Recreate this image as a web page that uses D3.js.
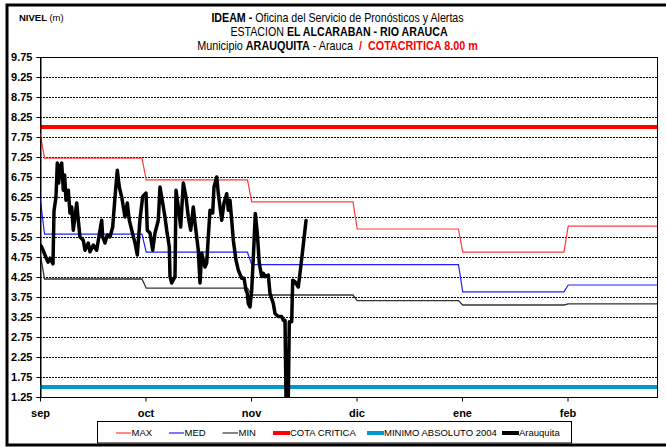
<!DOCTYPE html>
<html>
<head>
<meta charset="utf-8">
<script src="https://cdn.jsdelivr.net/npm/d3@7/dist/d3.min.js"></script>
<style>
  html, body { margin: 0; padding: 0; background: #fff; }
  svg { display: block; }
  .narrow { font-family: "Liberation Sans Narrow", "Arial Narrow", "Liberation Sans", Arial, sans-serif; }
  .reg { font-family: "Liberation Sans", Arial, sans-serif; }
</style>
</head>
<body>
<svg id="chart" width="666" height="447"></svg>
<script>
// ---------------- DATA ----------------
const monthLabels = ["sep", "oct", "nov", "dic", "ene", "feb"];
const monthTicks = [0, 30, 60, 90, 120, 150];
const yTickValues = [1.25, 1.75, 2.25, 2.75, 3.25, 3.75, 4.25, 4.75, 5.25, 5.75, 6.25, 6.75, 7.25, 7.75, 8.25, 8.75, 9.25, 9.75];

// monthly statistics (step values per month), with the value carried from the previous month at day 0
const maxStart = 7.85;
const maxVals = [7.22, 6.68, 6.13, 5.45, 4.87, 5.52];
const medStart = 6.25;
const medVals = [5.32, 4.87, 4.56, 4.56, 3.88, 4.05];
const minStart = 4.85;
const minVals = [4.20, 3.97, 3.80, 3.66, 3.55, 3.58];

const cotaCritica = 8.00;
const minimoAbsoluto2004 = 1.50;

// Arauquita observed levels (day index, level m)
const arDay = [0, 0.48, 1.42, 2.27, 2.84, 3.7, 3.98, 4.55, 4.92, 5.3, 5.69, 6.17, 6.63, 7.0, 7.39, 8.05, 8.53, 9.01, 9.47, 10.44,
  10.89, 11.37, 12.31, 12.8, 13.73, 14.22, 15.16, 16.12, 17.06, 17.54, 17.83, 18.48, 19.14, 19.9, 20.67, 21.33, 21.98, 22.55, 23.23, 24.17,
  24.82, 25.39, 26.08, 27.01, 27.67, 28.44, 29.2, 30.14, 30.51, 31.28, 32.05, 32.7, 33.64, 34.12, 34.89, 35.54, 36.03, 36.77, 36.97, 37.45,
  38.39, 38.67, 39.33, 40.01, 40.75, 41.52, 42.17, 42.85, 43.59, 44.08, 45.01, 45.5, 45.98, 46.92, 47.4, 48.34, 49.11, 49.48, 50.25, 50.71,
  51.67, 52.32, 53.09, 53.54, 54.03, 54.51, 54.97, 55.73, 56.39, 57.36, 58.01, 58.58, 58.95, 59.23, 59.72, 60.2, 60.85, 61.22, 61.79, 62.36,
  63.04, 63.5, 63.98, 64.92, 65.4, 66.34, 66.82, 67.76, 68.73, 69.18, 69.67, 69.95, 70.61, 70.89, 71.57, 71.86, 72.51, 73.45, 73.93, 74.7, 75.64];
const arVal = [5.05, 5.0, 4.8, 4.62, 4.72, 4.58, 5.9, 6.25, 7.1, 6.6, 7.0, 7.1, 6.42, 6.8, 6.17, 6.42, 5.85, 6.0, 5.42, 6.1,
  5.67, 5.25, 5.17, 4.92, 5.1, 4.88, 5.05, 4.92, 5.42, 5.67, 5.25, 5.1, 5.3, 5.25, 5.5, 6.25, 6.92, 6.5, 6.25, 5.75,
  6.1, 5.67, 5.42, 5.1, 4.8, 5.7, 6.26, 6.35, 5.42, 5.35, 4.92, 5.35, 5.67, 6.5, 6.1, 5.75, 5.42, 5.0, 4.26, 4.1,
  4.26, 6.42, 6.0, 5.5, 6.6, 6.25, 5.75, 5.42, 6.0, 5.6, 4.92, 4.1, 4.85, 4.5, 4.6, 5.92, 5.85, 6.5, 6.75, 6.33,
  5.67, 6.1, 6.33, 5.92, 6.17, 5.67, 5.17, 4.67, 4.42, 4.22, 4.22, 3.92, 3.84, 3.59, 3.5, 3.92, 5.09, 5.84, 5.34, 4.59,
  4.26, 4.34, 4.26, 4.3, 3.84, 3.59, 3.34, 3.26, 3.26, 3.17, 3.17, 1.25, 1.25, 3.13, 3.13, 4.17, 4.13, 4.0, 4.34, 4.92, 5.66];

// ---------------- LAYOUT ----------------
const svg = d3.select("#chart");
const plot = { left: 40, right: 657, top: 57, bottom: 397 };
const xMax = 175.45;

const x = d3.scaleLinear().domain([0, xMax]).range([plot.left, plot.right]);
const y = d3.scaleLinear().domain([1.25, 9.75]).range([plot.bottom, plot.top]);

// outer frame
svg.append("rect").attr("x", 7).attr("y", 5).attr("width", 680).attr("height", 440)
  .attr("fill", "none").attr("stroke", "#000").attr("stroke-width", 3);

// grid lines (dotted)
svg.append("g").selectAll("line").data(yTickValues.filter(v => v > 1.25 && v < 9.75)).join("line")
  .attr("x1", plot.left).attr("x2", plot.right)
  .attr("y1", d => Math.round(y(d)) + 0.5).attr("y2", d => Math.round(y(d)) + 0.5)
  .attr("stroke", "#000").attr("stroke-width", 1).attr("stroke-dasharray", "2,1");

// plot border
svg.append("rect").attr("x", plot.left + 0.5).attr("y", plot.top + 0.5)
  .attr("width", plot.right - plot.left).attr("height", plot.bottom - plot.top)
  .attr("fill", "none").attr("stroke", "#000").attr("stroke-width", 1);

// clip
svg.append("clipPath").attr("id", "clip").append("rect")
  .attr("x", plot.left).attr("y", plot.top).attr("width", plot.right - plot.left).attr("height", plot.bottom - plot.top + 1);

const line = d3.line().x(d => x(d[0])).y(d => y(d[1]));

function stepSeries(start, vals) {
  const pts = [[0, start]];
  vals.forEach((v, k) => {
    const a = k === 0 ? 1.3 : monthTicks[k] + 0.2;
    const b = k === vals.length - 1 ? xMax : monthTicks[k] + 29;
    pts.push([a, v], [b, v]);
  });
  return pts;
}

const g = svg.append("g").attr("clip-path", "url(#clip)");

g.append("path").attr("d", line([[0, minimoAbsoluto2004], [xMax, minimoAbsoluto2004]]))
  .attr("fill", "none").attr("stroke", "#0099cc").attr("stroke-width", 4);
g.append("path").attr("d", line(stepSeries(maxStart, maxVals)))
  .attr("fill", "none").attr("stroke", "#ff3a3a").attr("stroke-width", 1.2);
g.append("path").attr("d", line(stepSeries(medStart, medVals)))
  .attr("fill", "none").attr("stroke", "#2020ff").attr("stroke-width", 1.2);
g.append("path").attr("d", line(stepSeries(minStart, minVals)))
  .attr("fill", "none").attr("stroke", "#333").attr("stroke-width", 1.3);
g.append("path").attr("d", line([[0, cotaCritica], [xMax, cotaCritica]]))
  .attr("fill", "none").attr("stroke", "#ff0000").attr("stroke-width", 4);
g.append("path").attr("d", line(arDay.map((d, i) => [d, arVal[i]])))
  .attr("fill", "none").attr("stroke", "#000").attr("stroke-width", 3.5)
  .attr("stroke-linejoin", "round").attr("stroke-linecap", "round");

// y axis
const yAxis = d3.axisLeft(y).tickValues(yTickValues).tickSize(4).tickPadding(4)
  .tickFormat(d3.format(".2f"));
const ya = svg.append("g").attr("transform", `translate(${plot.left + 0.5},0)`).call(yAxis);
ya.select(".domain").attr("stroke", "#000");
ya.selectAll("text").attr("class", "reg").attr("font-size", 11).attr("font-weight", "bold").attr("fill", "#000");

// x axis
const xAxis = d3.axisBottom(x).tickValues(monthTicks).tickSize(4).tickPadding(8)
  .tickFormat((d, i) => monthLabels[i]);
const xa = svg.append("g").attr("transform", `translate(0,${plot.bottom + 0.5})`).call(xAxis);
xa.select(".domain").remove();
xa.selectAll("text").attr("class", "reg").attr("font-size", 11).attr("font-weight", "bold").attr("fill", "#000");

// titles
function fitText(sel, targetW) {
  const bb = sel.node().getBBox();
  const k = targetW / bb.width;
  const cx = +sel.attr("x"), cy = +sel.attr("y");
  sel.attr("transform", `translate(${cx},${cy}) scale(${k},1) translate(${-cx},${-cy})`);
}

const titles = [
  { cx: 337.5, y: 22, w: 253, parts: [["IDEAM - ", "bold", "#000"], ["Oficina del Servicio de Pronósticos y Alertas", "normal", "#000"]] },
  { cx: 339, y: 36, w: 218, parts: [["ESTACION ", "normal", "#000"], ["EL ALCARABAN - RIO ARAUCA", "bold", "#000"]] },
  { cx: 337.5, y: 50, w: 281, parts: [["Municipio ", "normal", "#000"], ["ARAUQUITA", "bold", "#000"], [" - Arauca  ", "normal", "#000"], ["/  COTACRITICA 8.00 m", "bold", "#ff0000"]] }
];
titles.forEach(t => {
  const tx = svg.append("text").attr("class", "narrow").attr("x", t.cx).attr("y", t.y)
    .attr("text-anchor", "middle").attr("font-size", 13).attr("xml:space", "preserve");
  t.parts.forEach(p => tx.append("tspan").text(p[0]).attr("font-weight", p[1]).attr("fill", p[2]));
  fitText(tx, t.w);
});

const niv = svg.append("text").attr("class", "narrow").attr("x", 19).attr("y", 21).attr("font-size", 9.5);
niv.append("tspan").text("NIVEL ").attr("font-weight", "bold");
niv.append("tspan").text("(m)");

// legend
svg.append("rect").attr("x", 97.5).attr("y", 421.5).attr("width", 474).attr("height", 21.5)
  .attr("fill", "#fff").attr("stroke", "#000").attr("stroke-width", 1);

const legendItems = [
  { name: "MAX", color: "#ff3a3a", w: 1.2, x0: 116, x1: 131, tx: 131.5 },
  { name: "MED", color: "#2020ff", w: 1.2, x0: 169, x1: 184, tx: 184.5 },
  { name: "MIN", color: "#333", w: 1.2, x0: 222.5, x1: 238, tx: 238.5 },
  { name: "COTA CRITICA", color: "#ff0000", w: 4, x0: 273, x1: 290, tx: 290 },
  { name: "MINIMO ABSOLUTO 2004", color: "#0099cc", w: 4, x0: 367, x1: 384, tx: 384 },
  { name: "Arauquita", color: "#000", w: 4, x0: 502, x1: 519, tx: 519 }
];
const ly = 433;
const lg = svg.append("g").selectAll("g").data(legendItems).join("g");
lg.append("line").attr("x1", d => d.x0).attr("x2", d => d.x1).attr("y1", ly).attr("y2", ly)
  .attr("stroke", d => d.color).attr("stroke-width", d => d.w);
lg.append("text").attr("class", "narrow").attr("x", d => d.tx).attr("y", ly + 3.3)
  .attr("font-size", 9.5).text(d => d.name);
</script>
</body>
</html>
